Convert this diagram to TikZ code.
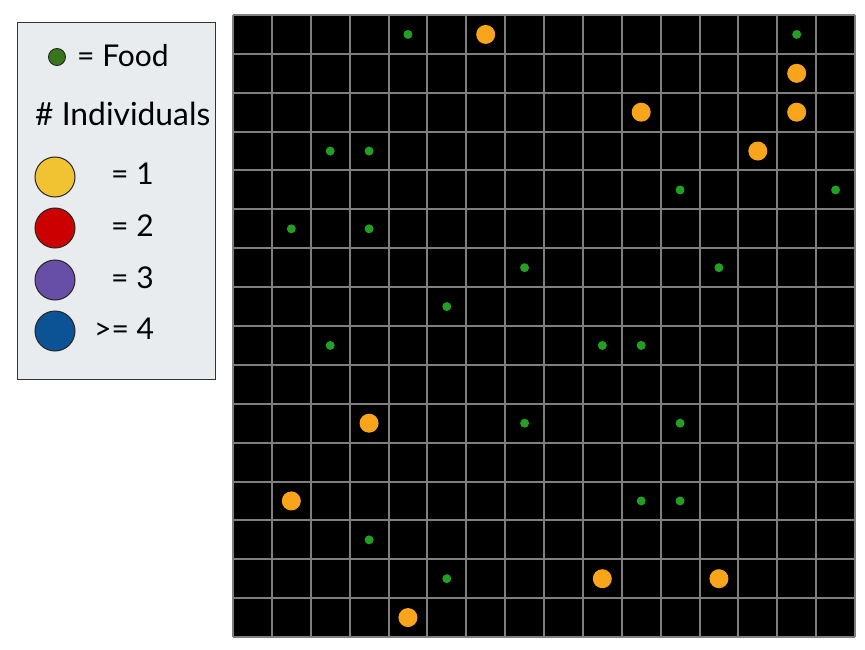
\documentclass[tikz,border=0pt]{standalone}
\usepackage{fontspec}
\setmainfont{Lato}
\definecolor{gridgray}{HTML}{7F7F7F}
\definecolor{foodgreen}{HTML}{23A023}
\definecolor{indorange}{HTML}{F9A51B}
\definecolor{legendbg}{HTML}{E9ECEE}
\definecolor{legyellow}{HTML}{F1C232}
\definecolor{legred}{HTML}{CC0000}
\definecolor{legpurple}{HTML}{674EA7}
\definecolor{legblue}{HTML}{0B5394}
\definecolor{leggreen}{HTML}{38761D}
\begin{document}
\begin{tikzpicture}[x=1pt,y=-1pt,
  gridline/.style={draw=gridgray, line width=2pt},
  food/.style={circle, fill=foodgreen, inner sep=0pt, minimum size=9pt},
  indiv/.style={circle, fill=indorange, inner sep=0pt, minimum size=19pt},
  legbox/.style={draw=black!80, line width=1.2pt, fill=legendbg, inner sep=0pt, anchor=north west, minimum width=198pt, minimum height=357pt},
  legcircle/.style={circle, draw=black!85, line width=1pt, inner sep=0pt, minimum size=40pt},
  legtext/.style={font=\fontsize{30}{36}\selectfont, text=black, inner sep=0pt, anchor=base west}
]
\useasboundingbox (0,0) rectangle (865,650);
% board
\fill[black] (233,15) rectangle (855,637);
\foreach \i in {0,...,16} {
  \draw[gridline] ({233+38.875*\i},15) -- ({233+38.875*\i},637);
  \draw[gridline] (233,{15+38.875*\i}) -- (855,{15+38.875*\i});
}
% food
\foreach \c/\r [count=\k] in {4/0,14/0,2/3,3/3,11/4,15/4,1/5,3/5,7/6,12/6,5/7,2/8,9/8,10/8,7/10,11/10,10/12,11/12,3/13,5/14}
  \node[food] (food\k) at ({233+38.875*(\c+0.5)},{15+38.875*(\r+0.5)}) {};
% individuals
\foreach \c/\r [count=\k] in {6/0,14/1,10/2,14/2,13/3,3/10,1/12,9/14,12/14,4/15}
  \node[indiv] (ind\k) at ({233+38.875*(\c+0.5)},{15+38.875*(\r+0.5)}) {};
% legend
\node[legbox] (legend) at (17,22) {};
\node[circle, draw=black!85, line width=0.9pt, fill=leggreen, inner sep=0pt, minimum size=17pt] (lfood) at (57,57) {};
\node[legtext] (tfood) at (77,67) {= Food};
\node[legtext, font=\fontsize{31.8}{38}\selectfont] (tind) at (35,126) {\# Individuals};
\node[legcircle, fill=legyellow] (l1) at (55,177) {};
\node[legcircle, fill=legred] (l2) at (55,228) {};
\node[legcircle, fill=legpurple] (l3) at (55,280) {};
\node[legcircle, fill=legblue] (l4) at (55,331) {};
\node[legtext] (t1) at (111,185) {= 1};
\node[legtext] (t2) at (111,236) {= 2};
\node[legtext] (t3) at (111,288) {= 3};
\node[legtext] (t4) at (94,339) {>= 4};
\end{tikzpicture}
\end{document}
